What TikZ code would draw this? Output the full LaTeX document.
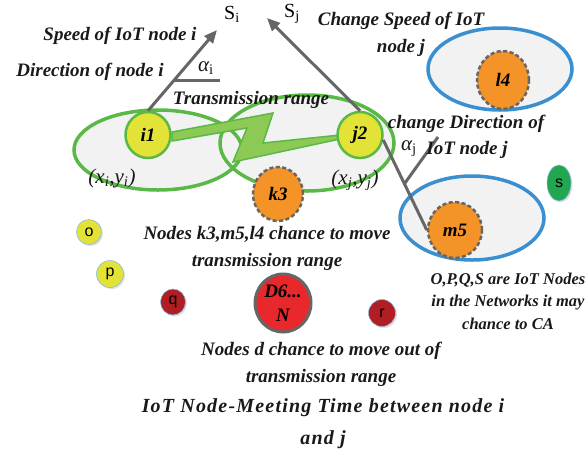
\documentclass[tikz,border=0pt]{standalone}
\usepackage{fontspec}
\setmainfont{Liberation Serif}
\setsansfont{Liberation Sans}
\usetikzlibrary{shapes.geometric,arrows.meta,shadows}
\definecolor{rgreen}{HTML}{5AB946}
\definecolor{lgreen}{HTML}{8CC955}
\definecolor{iyellow}{HTML}{E3E236}
\definecolor{morange}{HTML}{F39328}
\definecolor{dgray}{HTML}{666666}
\definecolor{rblue}{HTML}{3A8FD0}
\definecolor{dred}{HTML}{B01E23}
\definecolor{bred}{HTML}{E8282A}
\definecolor{sgreen}{HTML}{22A650}
\definecolor{efill}{HTML}{F2F2F2}
\begin{document}
\begin{tikzpicture}[x=1pt,y=-1pt,
  lbl/.style={font=\bfseries\itshape\fontsize{19}{27}\selectfont, inner sep=0pt, align=center, text=black!90},
  smalllbl/.style={font=\bfseries\itshape\fontsize{16.5}{22.5}\selectfont, inner sep=0pt, align=center, text=black!90},
  coordlbl/.style={font=\itshape\fontsize{21}{22}\selectfont, inner sep=0pt, text=black!90},
  yellownode/.style={ellipse, fill=iyellow, draw=rgreen, line width=2.5pt, inner sep=0pt,
     minimum width=45pt, minimum height=46pt, font=\bfseries\itshape\fontsize{19}{22}\selectfont},
  movernode/.style={ellipse, fill=morange, draw=dgray, line width=2.5pt, dash pattern=on 4pt off 2.5pt,
     inner sep=0pt, font=\bfseries\itshape\fontsize{19}{22}\selectfont},
  iotnode/.style={ellipse, inner sep=0pt, draw=rblue!60, line width=0.6pt, font=\sffamily\fontsize{16}{18}\selectfont,
     drop shadow={opacity=0.25, shadow xshift=1.5pt, shadow yshift=-1.5pt}},
  rangefill/.style={fill=efill},
  rangeline/.style={draw=rgreen, line width=3.5pt},
  blueline/.style={draw=rblue, fill=efill, line width=3.5pt},
  grayarrow/.style={draw=dgray, line width=3pt, -{Triangle[length=13pt,width=11pt]}},
  grayline/.style={draw=dgray, line width=3pt}
]
\useasboundingbox (0,0) rectangle (588,456);

% blue range ellipses
\draw[blueline] (500,69) ellipse [x radius=72, y radius=41];
\draw[blueline] (472,218) ellipse [x radius=72, y radius=42];

% green transmission ranges
\fill[rangefill] (158,150) ellipse [x radius=84, y radius=40];
\fill[rangefill] (307,143) ellipse [x radius=87, y radius=48];
\draw[rangeline] (158,150) ellipse [x radius=84, y radius=40];
\draw[rangeline] (307,143) ellipse [x radius=87, y radius=48];

% lightning bolt
\filldraw[fill=lgreen, draw=rgreen, line width=1.5pt, line join=miter]
  (172,132) -- (273,113) -- (263,143) -- (340,135) -- (340,139)
  -- (233,162) -- (247,128) -- (172,141) -- cycle;

% nodes
\node[yellownode] (i1) at (148,135) {i1};
\node[yellownode] (j2) at (360,135) {j2};
\node[movernode, minimum width=50pt, minimum height=54pt] (k3) at (278,194) {k3};
\node[movernode, minimum width=52pt, minimum height=58pt] (l4) at (503,80) {l4};
\node[movernode, minimum width=54pt, minimum height=56pt] (m5) at (455,230) {m5};
\node[iotnode, fill=sgreen, minimum width=24pt, minimum height=36pt] (s) at (559,183) {s};
\node[iotnode, fill=iyellow, minimum width=25pt, minimum height=25pt] (o) at (89,232) {o};
\node[iotnode, fill=iyellow, minimum width=27pt, minimum height=27pt] (p) at (110,274) {p};
\node[iotnode, fill=dred, minimum width=25pt, minimum height=26pt] (q) at (173,302) {q};
\node[iotnode, fill=dred, minimum width=27pt, minimum height=27pt] (r) at (382,313) {r};
\node[ellipse, fill=bred, draw=dgray, line width=3pt, inner sep=0pt, minimum width=56pt, minimum height=58pt,
  align=center, font=\bfseries\itshape\fontsize{19}{24}\selectfont] (d6) at (283,303) {D6...\\N};

% speed / direction of node i
\coordinate (sitip) at (217,30);
\coordinate (refa) at (174,80);
\coordinate (refb) at (220,80);
\draw[grayarrow] (i1.north) -- (sitip);
\draw[grayline] (refa) -- (refb);

% speed / direction of node j
\coordinate (sjtip) at (267,18);
\coordinate (dirjbase) at (405,183);
\coordinate (dirjtop) at (438,137);
\draw[grayarrow] (j2.north) -- (sjtip);
\draw[grayline] (j2.-12) -- (m5.west);
\draw[grayline] (dirjbase) -- (dirjtop);

% labels
\node[font=\fontsize{20}{22}\selectfont, inner sep=0pt] (silbl) at (232,14) {S\textsubscript{i}};
\node[font=\fontsize{20}{22}\selectfont, inner sep=0pt] (sjlbl) at (292,14) {S\textsubscript{j}};
\node[lbl] (speedi) at (120,36) {Speed of IoT node i};
\node[lbl] (diri) at (90,72) {Direction of node i};
\node[coordlbl] (alphai) at (206,68) {α\textsubscript{\upshape i}};
\node[lbl] (trange) at (251,100) {Transmission range};
\node[coordlbl] (xiyi) at (112,178) {(x\textsubscript{i},y\textsubscript{i})};
\node[coordlbl] (xjyj) at (355,180) {(x\textsubscript{j},y\textsubscript{j})};
\node[lbl] (speedj) at (401,34) {Change Speed of IoT\\node j};
\node[lbl] (dirj) at (466,124) {change Direction of};
\node[coordlbl] (alphaj) at (409,149) {α\textsubscript{\upshape j}};
\node[lbl] (dirj2) at (467,150) {IoT node j};
\node[lbl] (moveA) at (267,248) {Nodes k3,m5,l4 chance to move\\transmission range};
\node[smalllbl] (opqs) at (508,301) {O,P,Q,S are IoT Nodes\\in the Networks it may\\chance to CA};
\node[lbl] (moveD) at (321,364) {Nodes d chance to move out of\\transmission range};
\node[font=\bfseries\itshape\fontsize{20}{32}\addfontfeature{LetterSpace=6}\selectfont, inner sep=0pt, align=center, text=black!90] (title) at (323,424) {IoT Node-Meeting Time between node i\\and j};
\end{tikzpicture}
\end{document}
